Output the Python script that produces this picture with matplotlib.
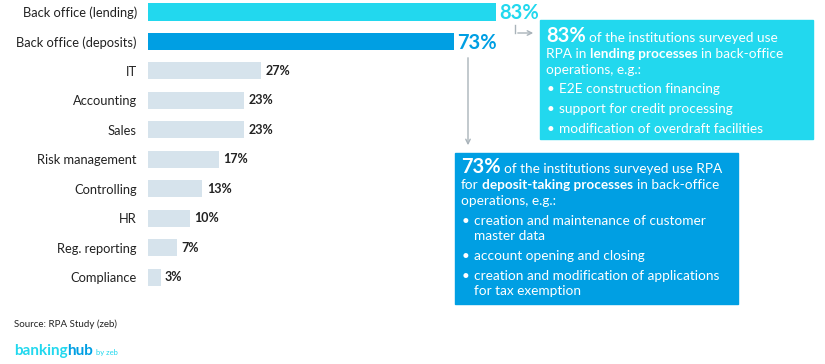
import matplotlib
matplotlib.use("Agg")
import matplotlib.pyplot as plt
from matplotlib.patches import Rectangle, FancyArrowPatch

plt.rcParams['font.family'] = ['Lato', 'DejaVu Sans']

categories = ["Back office (lending)", "Back office (deposits)", "IT", "Accounting", "Sales",
              "Risk management", "Controlling", "HR", "Reg. reporting", "Compliance"]
values = [83, 73, 27, 23, 23, 17, 13, 10, 7, 3]

CYAN = "#22D8EE"
BLUE = "#009FE3"
GRAY = "#D6E3EC"
DARK = "#222222"
ARROW = "#A9B3BA"

W, H = 825, 364
fig = plt.figure(figsize=(W / 100, H / 100), dpi=100)

def fx(x):
    return x / W

def fy(y):
    return 1 - y / H

left_px = 148
px_per = 4.19
row0, step = 12, 29.45
top_px, bot_px = 0, 300
ax = fig.add_axes([fx(left_px), fy(bot_px), (100 * px_per) / W, (bot_px - top_px) / H])
ax.set_xlim(0, 100)
ax.set_ylim((bot_px - row0) / step, (top_px - row0) / step)
for s in ax.spines.values():
    s.set_visible(False)
ax.set_xticks([])
ax.set_yticks(range(len(categories)))
ax.set_yticklabels(categories, fontsize=9.3, color=DARK)
ax.tick_params(axis='y', length=0, pad=8)
ax.patch.set_alpha(0)

colors = [CYAN, BLUE] + [GRAY] * (len(values) - 2)
ax.barh(range(len(values)), values, height=0.58, color=colors)
for i, v in enumerate(values):
    if i == 0:
        ax.text(v + 0.8, i + 0.05, f"{v}%", fontsize=14.5, fontweight='bold', color=CYAN, va='center', ha='left')
    elif i == 1:
        ax.text(v + 0.8, i + 0.05, f"{v}%", fontsize=14.5, fontweight='bold', color=BLUE, va='center', ha='left')
    else:
        ax.text(v + 1.0, i, f"{v}%", fontsize=9, fontweight='bold', color=DARK, va='center', ha='left')

renderer = fig.canvas.get_renderer()

def width_of(s, size, weight):
    t = fig.text(0, 0, s, fontsize=size, fontweight=weight)
    w = t.get_window_extent(renderer).width
    t.remove()
    return w

FS = 9.8
SPACE = width_of("a a", FS, 'normal') - width_of("aa", FS, 'normal')

def rich_line(x, y, segments, color="white"):
    cur = x
    for k, (s, size, weight) in enumerate(segments):
        t = fig.text(fx(cur), fy(y), s, fontsize=size, fontweight=weight, color=color,
                     va='baseline', ha='left')
        cur += t.get_window_extent(renderer).width
        if k < len(segments) - 1:
            cur += SPACE

# Box 1
fig.patches.append(Rectangle((fx(540), fy(139)), (813 - 540) / W, (139 - 20) / H,
                             transform=fig.transFigure, color=CYAN, zorder=0))
rich_line(546, 42, [("83%", 14.5, 'bold'), ("of the institutions surveyed use", FS, 'normal')])
rich_line(546, 58, [("RPA in", FS, 'normal'), ("lending processes", FS, 'bold'), ("in back-office", FS, 'normal')])
rich_line(546, 74, [("operations, e.g.:", FS, 'normal')])
for y, s in [(93, "E2E construction financing"), (113, "support for credit processing"),
             (133, "modification of overdraft facilities")]:
    fig.text(fx(547), fy(y), "•", fontsize=FS, color="white", va='baseline')
    fig.text(fx(559), fy(y), s, fontsize=FS, color="white", va='baseline')

# Box 2
fig.patches.append(Rectangle((fx(455), fy(304)), (738 - 455) / W, (304 - 153) / H,
                             transform=fig.transFigure, color=BLUE, zorder=0))
rich_line(461, 173, [("73%", 14.5, 'bold'), ("of the institutions surveyed use RPA", FS, 'normal')])
rich_line(461, 189, [("for", FS, 'normal'), ("deposit-taking processes", FS, 'bold'), ("in back-office", FS, 'normal')])
rich_line(461, 205, [("operations, e.g.:", FS, 'normal')])
for y, lines in [(225, ["creation and maintenance of customer", "master data"]),
                 (260, ["account opening and closing"]),
                 (280, ["creation and modification of applications", "for tax exemption"])]:
    fig.text(fx(462), fy(y), "•", fontsize=FS, color="white", va='baseline')
    for j, s in enumerate(lines):
        fig.text(fx(474), fy(y + j * 15), s, fontsize=FS, color="white", va='baseline')

# Arrows
fig.lines.append(plt.Line2D([fx(515), fx(515)], [fy(25), fy(33)], transform=fig.transFigure,
                            color=ARROW, lw=1))
fig.patches.append(FancyArrowPatch((fx(515), fy(33)), (fx(536), fy(33)), transform=fig.transFigure,
                                   arrowstyle='->', mutation_scale=8, color=ARROW, lw=1))
fig.patches.append(FancyArrowPatch((fx(468), fy(55)), (fx(468), fy(148)), transform=fig.transFigure,
                                   arrowstyle='->', mutation_scale=8, color=ARROW, lw=1))

# Source and logo
fig.text(fx(14), fy(327), "Source: RPA Study (zeb)", fontsize=7, color=DARK, va='baseline')
t1 = fig.text(fx(14), fy(355), "banking", fontsize=11, fontweight='bold', color=CYAN, va='baseline')
w1 = t1.get_window_extent(renderer).width
t2 = fig.text(fx(14 + w1), fy(355), "hub", fontsize=11, fontweight='bold', color=BLUE, va='baseline')
w2 = t2.get_window_extent(renderer).width
fig.text(fx(14 + w1 + w2 + 2), fy(355), "by zeb", fontsize=5.5, color=CYAN, va='baseline')

fig.savefig("out.png", dpi=100)
